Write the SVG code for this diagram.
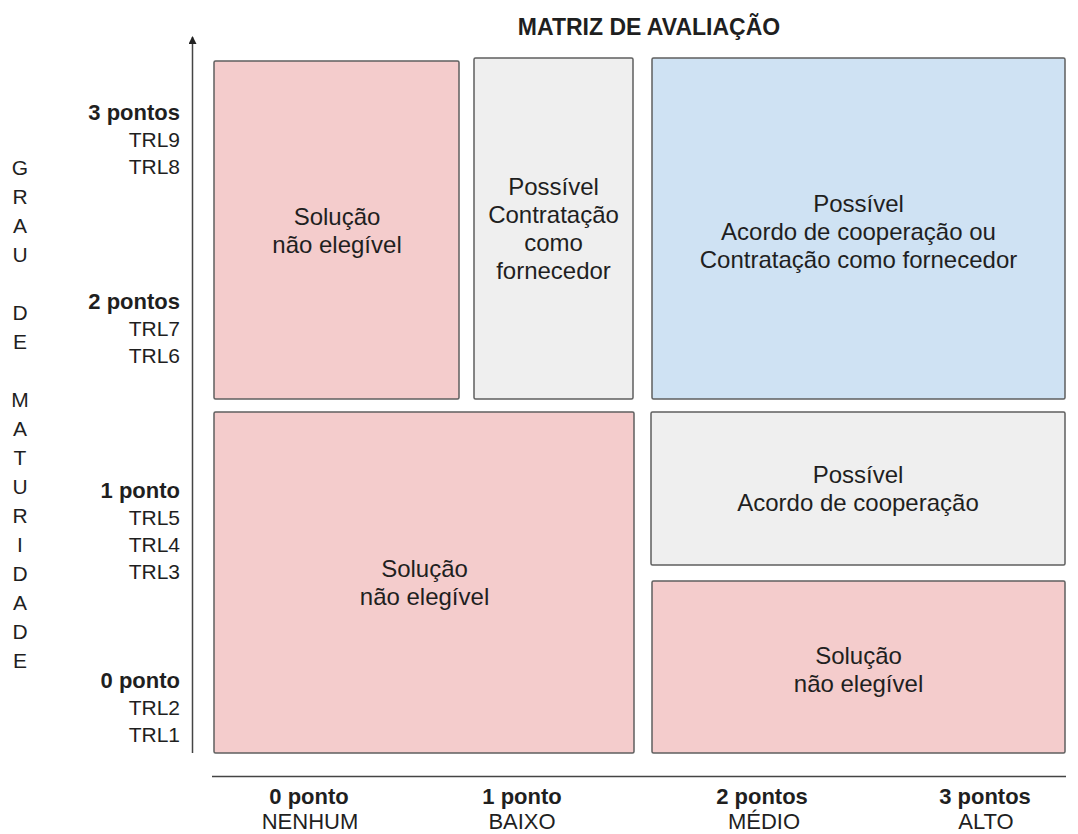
<svg xmlns="http://www.w3.org/2000/svg" width="1078" height="834" viewBox="0 0 1078 834">
<defs>
<style>
text{font-family:"Liberation Sans",Arial,sans-serif;fill:#1f1f1f}
.t{font-size:24px;text-anchor:middle}
.l{font-size:21px;text-anchor:end}
.lb{font-size:22px;font-weight:bold;text-anchor:end}
.v{font-size:21px;text-anchor:middle}
.bb{font-size:22px;font-weight:bold;text-anchor:middle}
.bn{font-size:22px;text-anchor:middle}
.title{font-size:23px;font-weight:bold;text-anchor:middle}
.box{stroke:#5f5f5f;stroke-width:1.5}
.pink{fill:#f4cccc}
.grey{fill:#efefef}
.blue{fill:#cfe2f3}
.axis{stroke:#444;stroke-width:1.5;fill:none}
</style>
<marker id="arr" viewBox="0 0 8 8" refX="7" refY="4" markerWidth="8" markerHeight="8" markerUnits="userSpaceOnUse" orient="auto">
<path d="M0,0 L8,4 L0,8 Z" fill="#222"/>
</marker>
</defs>
<rect width="1078" height="834" fill="#fff"/>
<text class="title" x="649" y="35">MATRIZ DE AVALIAÇÃO</text>
<g id="axes">
<line class="axis" x1="192.5" y1="753" x2="192.5" y2="37" marker-end="url(#arr)"/>
<line class="axis" x1="212" y1="776.5" x2="1066" y2="776.5"/>
</g>
<g id="y-title">
<text class="v" x="20" y="175">G</text>
<text class="v" x="20" y="204">R</text>
<text class="v" x="20" y="233">A</text>
<text class="v" x="20" y="262">U</text>
<text class="v" x="20" y="320">D</text>
<text class="v" x="20" y="349">E</text>
<text class="v" x="20" y="407">M</text>
<text class="v" x="20" y="436">A</text>
<text class="v" x="20" y="465">T</text>
<text class="v" x="20" y="494">U</text>
<text class="v" x="20" y="523">R</text>
<text class="v" x="20" y="552">I</text>
<text class="v" x="20" y="581">D</text>
<text class="v" x="20" y="610">A</text>
<text class="v" x="20" y="639">D</text>
<text class="v" x="20" y="668">E</text>
</g>
<g id="y-labels">
<text class="lb" x="180" y="120">3 pontos</text>
<text class="l" x="180" y="147">TRL9</text>
<text class="l" x="180" y="174">TRL8</text>
<text class="lb" x="180" y="309">2 pontos</text>
<text class="l" x="180" y="336">TRL7</text>
<text class="l" x="180" y="363">TRL6</text>
<text class="lb" x="180" y="498">1 ponto</text>
<text class="l" x="180" y="525">TRL5</text>
<text class="l" x="180" y="552">TRL4</text>
<text class="l" x="180" y="579">TRL3</text>
<text class="lb" x="180" y="688">0 ponto</text>
<text class="l" x="180" y="715">TRL2</text>
<text class="l" x="180" y="742">TRL1</text>
</g>
<g id="x-labels">
<text class="bb" x="309" y="804">0 ponto</text>
<text class="bn" x="310" y="829">NENHUM</text>
<text class="bb" x="522" y="804">1 ponto</text>
<text class="bn" x="522" y="829">BAIXO</text>
<text class="bb" x="762" y="804">2 pontos</text>
<text class="bn" x="764" y="829">MÉDIO</text>
<text class="bb" x="985" y="804">3 pontos</text>
<text class="bn" x="986" y="829">ALTO</text>
</g>
<g id="n1">
<rect class="box pink" x="214" y="61" width="245" height="338" rx="1.5"/>
<text class="t" x="337" y="225">Solução</text>
<text class="t" x="337" y="253">não elegível</text>
</g>
<g id="n2">
<rect class="box grey" x="474" y="58" width="159" height="341" rx="1.5"/>
<text class="t" x="553.5" y="195">Possível</text>
<text class="t" x="553.5" y="223">Contratação</text>
<text class="t" x="553.5" y="251">como</text>
<text class="t" x="553.5" y="279">fornecedor</text>
</g>
<g id="n3">
<rect class="box blue" x="652" y="58" width="413" height="341" rx="1.5"/>
<text class="t" x="858.5" y="212">Possível</text>
<text class="t" x="858.5" y="240">Acordo de cooperação ou</text>
<text class="t" x="858.5" y="268">Contratação como fornecedor</text>
</g>
<g id="n4">
<rect class="box grey" x="651" y="412" width="414" height="153" rx="1.5"/>
<text class="t" x="858" y="483">Possível</text>
<text class="t" x="858" y="511">Acordo de cooperação</text>
</g>
<g id="n5">
<rect class="box pink" x="652" y="581" width="413" height="172" rx="1.5"/>
<text class="t" x="858.5" y="664">Solução</text>
<text class="t" x="858.5" y="692">não elegível</text>
</g>
<g id="n6">
<rect class="box pink" x="214" y="412" width="420" height="341" rx="1.5"/>
<text class="t" x="424.5" y="577">Solução</text>
<text class="t" x="424.5" y="605">não elegível</text>
</g>
</svg>
